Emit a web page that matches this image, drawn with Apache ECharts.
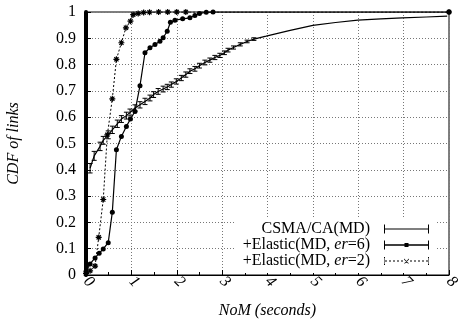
<!DOCTYPE html>
<html>
<head>
<meta charset="utf-8">
<script src="https://cdn.jsdelivr.net/npm/echarts@6/dist/echarts.min.js"></script>
<style>
  html, body { margin: 0; padding: 0; background: #fff; }
  #chart { width: 458px; height: 328px; }
</style>
</head>
<body>
<div id="chart"></div>
<script>
// CSMA/CA(MD): x, CDF, half error bar
const csmaX = [0.09, 0.18, 0.31, 0.38, 0.49, 0.58, 0.69, 0.78, 0.89, 0.97, 1.08, 1.19, 1.3, 1.41, 1.49, 1.59, 1.7, 1.79, 1.88, 1.99, 2.1, 2.2, 2.29, 2.4, 2.5, 2.62, 2.73, 2.84, 2.95, 3.05, 3.13, 3.25, 3.4, 3.55, 3.7, 3.97, 4.5, 5.0, 5.5, 5.99, 6.5, 6.97, 7.5, 7.96]
const csmaY = [0.406, 0.453, 0.489, 0.512, 0.533, 0.552, 0.575, 0.593, 0.606, 0.618, 0.635, 0.647, 0.66, 0.673, 0.686, 0.698, 0.707, 0.715, 0.724, 0.736, 0.749, 0.762, 0.775, 0.784, 0.796, 0.808, 0.817, 0.827, 0.835, 0.845, 0.855, 0.865, 0.877, 0.888, 0.897, 0.908, 0.93, 0.949, 0.96, 0.969, 0.974, 0.978, 0.981, 0.984]
const csmaErr = [0.018, 0.017, 0.016, 0.015, 0.015, 0.014, 0.014, 0.013, 0.013, 0.013, 0.012, 0.012, 0.012, 0.011, 0.011, 0.011, 0.011, 0.01, 0.01, 0.01, 0.01, 0.01, 0.009, 0.009, 0.009, 0.009, 0.008, 0.008, 0.008, 0.007, 0.007, 0.006, 0.006, 0.005, 0.005, 0, 0, 0, 0, 0, 0, 0, 0, 0]

// +Elastic(MD, er=6)
const er6X = [0, 0.09, 0.2, 0.29, 0.38, 0.49, 0.58, 0.67, 0.78, 0.89, 0.98, 1.08, 1.19, 1.3, 1.41, 1.52, 1.63, 1.7, 1.79, 1.86, 1.96, 2.13, 2.29, 2.4, 2.5, 2.65, 2.8, 8]
const er6Y = [0.013, 0.042, 0.065, 0.083, 0.099, 0.123, 0.239, 0.476, 0.527, 0.565, 0.593, 0.622, 0.72, 0.845, 0.864, 0.876, 0.889, 0.902, 0.927, 0.961, 0.969, 0.974, 0.978, 0.987, 0.994, 0.999, 1, 1]

// +Elastic(MD, er=2)
const er2X = [0, 0.09, 0.2, 0.28, 0.38, 0.47, 0.58, 0.67, 0.78, 0.88, 0.98, 1.04, 1.15, 1.27, 1.4, 1.6, 1.8, 2.0, 2.2, 8]
const er2Y = [0.005, 0.016, 0.034, 0.143, 0.287, 0.533, 0.67, 0.82, 0.883, 0.94, 0.965, 0.99, 0.994, 0.998, 0.999, 1, 1, 1, 1, 1]

const seriesNames = ['CSMA/CA(MD)', '+Elastic(MD, er=6)', '+Elastic(MD, er=2)']

const zip = (xs, ys) => xs.map((x, i) => [x, ys[i]])
const serif = 'Liberation Serif, Times New Roman, serif'

const asterisk = 'path://M0 5 L10 5 M5 0 L5 10 M1.5 1.5 L8.5 8.5 M8.5 1.5 L1.5 8.5'
const iconCsma = 'path://M0 0 L1 0 L1 9 L0 9 Z M1 4 L44 4 L44 5 L1 5 Z M44 0 L45 0 L45 9 L44 9 Z'
const iconEr6 = 'path://M0 0 L1 0 L1 9 L0 9 Z M1 3.7 L20.5 3.7 L20.5 5.3 L1 5.3 Z M20.5 2.5 L24.5 2.5 L24.5 6.5 L20.5 6.5 Z M24.5 3.7 L44 3.7 L44 5.3 L24.5 5.3 Z M44 0 L45 0 L45 9 L44 9 Z'
const iconEr2 = 'path://M0 2 L1 2 L1 3 L0 3 Z M0 6 L1 6 L1 7 L0 7 Z M0 4 L3 4 L3 5 L0 5 Z M5 4 L7 4 L7 5 L5 5 Z M9 4 L11 4 L11 5 L9 5 Z M13 4 L15 4 L15 5 L13 5 Z M17 4 L19 4 L19 5 L17 5 Z M20 2 L25 7 L24 7 L20 3 Z M25 2 L20 7 L21 7 L25 3 Z M26 4 L28 4 L28 5 L26 5 Z M30 4 L32 4 L32 5 L30 5 Z M34 4 L36 4 L36 5 L34 5 Z M38 4 L40 4 L40 5 L38 5 Z M42 4 L45 4 L45 5 L42 5 Z M44 2 L45 2 L45 3 L44 3 Z M44 6 L45 6 L45 7 L44 7 Z M44 0.5 L45 0.5 L45 1.5 L44 1.5 Z M44 7.5 L45 7.5 L45 8.5 L44 8.5 Z M0 0.5 L1 0.5 L1 1.5 L0 1.5 Z M0 7.5 L1 7.5 L1 8.5 L0 8.5 Z'

const chart = echarts.init(document.getElementById('chart'), null, { renderer: 'canvas' })

chart.setOption({
  animation: false,
  backgroundColor: '#fff',
  textStyle: { fontFamily: serif },
  grid: {
    left: 86, right: 9, top: 12, bottom: 53,
    outerBoundsMode: 'none',
    containLabel: false,
    show: true, borderColor: '#000', borderWidth: 1, backgroundColor: 'transparent'
  },
  xAxis: {
    type: 'value',
    min: 0, max: 8, interval: 1,
    name: 'NoM (seconds)',
    nameLocation: 'middle',
    nameGap: 28,
    nameTextStyle: { fontFamily: serif, fontSize: 16, fontStyle: 'italic', color: '#000' },
    axisLine: { lineStyle: { color: '#000', width: 1 } },
    axisTick: { inside: true, length: 5, lineStyle: { color: '#000' } },
    minorTick: { show: true, splitNumber: 2, length: 3, lineStyle: { color: '#000' } },
    axisLabel: {
      rotate: -45, margin: 4, color: '#000',
      fontFamily: serif, fontSize: 16, fontStyle: 'italic'
    },
    splitLine: { show: true, lineStyle: { color: '#777', type: [1, 2], width: 1 } }
  },
  yAxis: {
    type: 'value',
    min: 0, max: 1, interval: 0.1,
    name: 'CDF of links',
    nameLocation: 'middle',
    nameGap: 64,
    nameTextStyle: { fontFamily: serif, fontSize: 16, fontStyle: 'italic', color: '#000' },
    axisLine: { show: true, lineStyle: { color: '#000', width: 4 } },
    axisTick: { inside: true, length: 5, lineStyle: { color: '#000' } },
    axisLabel: {
      margin: 10, color: '#000', fontFamily: serif, fontSize: 16,
      formatter: v => (v === 0 || v === 1) ? String(v) : v.toFixed(1)
    },
    splitLine: { show: true, lineStyle: { color: '#777', type: [1, 2], width: 1 } }
  },
  legend: {
    orient: 'vertical',
    align: 'right',
    right: 21,
    top: 217,
    padding: [4, 8, 4, 8],
    backgroundColor: '#fff',
    itemWidth: 45,
    itemHeight: 9,
    itemGap: 0,
    selectedMode: false,
    itemStyle: { color: '#000', borderWidth: 0 },
    lineStyle: { width: 0 },
    formatter: name => name.replace('er=', '{i|er}='),
    textStyle: {
      fontFamily: serif, fontSize: 16, color: '#000', lineHeight: 15.5,
      padding: [0, 9, 0, 0],
      rich: { i: { fontFamily: serif, fontSize: 16, fontStyle: 'italic', color: '#000', lineHeight: 15.5 } }
    },
    data: [
      { name: seriesNames[0], icon: iconCsma },
      { name: seriesNames[1], icon: iconEr6 },
      { name: seriesNames[2], icon: iconEr2 }
    ]
  },
  series: [
    {
      name: seriesNames[0],
      type: 'line',
      data: zip(csmaX, csmaY),
      showSymbol: false,
      symbol: 'none',
      color: '#000',
      lineStyle: { color: '#000', width: 1.2 },
      z: 3
    },
    {
      name: seriesNames[0],
      type: 'custom',
      data: csmaX.map((x, i) => [x, csmaY[i] - csmaErr[i], csmaY[i] + csmaErr[i]]).filter((d, i) => csmaErr[i] > 0),
      renderItem: (params, api) => {
        const lo = api.coord([api.value(0), api.value(1)])
        const hi = api.coord([api.value(0), api.value(2)])
        const w = 2.5
        const st = { stroke: '#000', lineWidth: 1 }
        return {
          type: 'group',
          children: [
            { type: 'line', shape: { x1: lo[0], y1: lo[1], x2: hi[0], y2: hi[1] }, style: st },
            { type: 'line', shape: { x1: lo[0] - w, y1: lo[1], x2: lo[0] + w, y2: lo[1] }, style: st },
            { type: 'line', shape: { x1: hi[0] - w, y1: hi[1], x2: hi[0] + w, y2: hi[1] }, style: st }
          ]
        }
      },
      color: '#000',
      z: 3
    },
    {
      name: seriesNames[1],
      type: 'line',
      data: zip(er6X, er6Y),
      symbol: 'circle',
      symbolSize: 5,
      color: '#000',
      itemStyle: { color: '#000', borderColor: '#000', borderWidth: 0 },
      lineStyle: { color: '#000', width: 1.2 },
      z: 4
    },
    {
      name: seriesNames[2],
      type: 'line',
      data: zip(er2X, er2Y),
      symbol: asterisk,
      symbolSize: 6,
      color: '#000',
      itemStyle: { color: 'transparent', borderColor: '#000', borderWidth: 1.2 },
      lineStyle: { color: '#000', width: 1, type: [2, 2] },
      z: 4
    }
  ]
})
</script>
</body>
</html>
